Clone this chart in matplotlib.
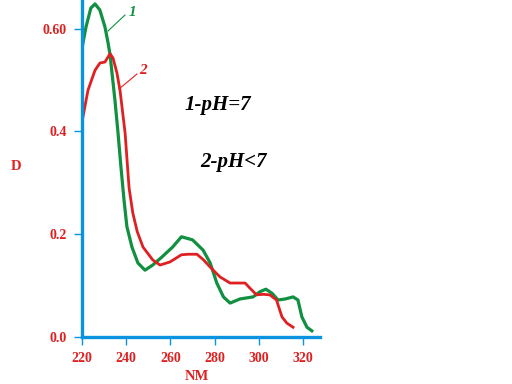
import matplotlib
matplotlib.use("Agg")
import matplotlib.pyplot as plt

# Curve 1 (pH=7), green
nm1 = [220, 221.8, 224, 225.9, 228.1, 230.4, 231.8, 232.7, 234.9, 236.3, 237.6, 239, 240.3, 242.6, 245.3, 248.5,
       252, 256, 261, 265, 270, 274.8, 278, 281, 284, 287, 291.5, 297.4, 300.5, 303.2, 306, 308.7,
       312, 315.5, 317.7, 319.5, 321.8, 324]
d1 = [0.562, 0.603, 0.640, 0.648, 0.636, 0.603, 0.572, 0.549, 0.461, 0.397, 0.332, 0.267, 0.215, 0.175, 0.144, 0.130,
      0.140, 0.155, 0.175, 0.195, 0.189, 0.169, 0.144, 0.105, 0.078, 0.066, 0.074, 0.078, 0.088, 0.093, 0.085, 0.072,
      0.074, 0.078, 0.072, 0.039, 0.019, 0.012]

# Curve 2 (pH<7), red
nm2 = [220, 222.7, 225.9, 228.1, 230.4, 231.8, 232.7, 234, 235.8, 237.2, 239.5, 241.3, 243, 245, 247.6,
       252, 255.3, 259.8, 265, 268, 272, 275, 278, 282.4, 287, 293.8, 296, 299, 302, 305, 308,
       310.5, 312.7, 315.5]
d2 = [0.418, 0.480, 0.519, 0.533, 0.535, 0.545, 0.551, 0.543, 0.514, 0.480, 0.397, 0.290, 0.241, 0.205, 0.175,
      0.150, 0.140, 0.146, 0.160, 0.161, 0.161, 0.150, 0.136, 0.117, 0.105, 0.105, 0.095, 0.082, 0.083, 0.082, 0.072,
      0.039, 0.027, 0.019]

xticks = [220, 240, 260, 280, 300, 320]
yticks = [0.0, 0.2, 0.4, 0.6]
yticklabels = ["0.0", "0.2", "0.4", "0.60"]

GREEN = "#109040"
RED = "#e02020"
BLUE = "#0a94e0"

fig = plt.figure(figsize=(5.12, 3.84), dpi=100)
fig.patch.set_facecolor("white")
ax = fig.add_axes([82/512, 1-337/384, (320-82)/512, 337/384])
ax.set_xlim(220, 220 + (320-82)/2.21)
ax.set_ylim(0, 337/514)

ax.plot(nm1, d1, color=GREEN, lw=2.3, solid_joinstyle="round")
ax.plot(nm2, d2, color=RED, lw=2.0, solid_joinstyle="round")

for s in ["top", "right"]:
    ax.spines[s].set_visible(False)
for s in ["left", "bottom"]:
    ax.spines[s].set_color(BLUE)
    ax.spines[s].set_linewidth(2.4)

serif = ["Liberation Serif", "DejaVu Serif"]
ax.set_xticks(xticks)
ax.set_xticklabels([str(t) for t in xticks], family=serif, weight="bold", color=RED, fontsize=10)
ax.set_yticks(yticks)
ax.set_yticklabels(yticklabels, family=serif, weight="bold", color=RED, fontsize=10)
ax.tick_params(axis="both", direction="out", color=BLUE, width=1, length=6)
ax.tick_params(axis="x", pad=5)
ax.tick_params(axis="y", pad=5)

def px(x, y):
    return 220 + (x-82)/2.21, (337-y)/514

fig.text(16/512, 1-167/384, "D", family=serif, weight="bold", color=RED, fontsize=10.5, ha="center", va="center")
fig.text(197/512, 1-377/384, "NM", family=serif, weight="bold", color=RED, fontsize=10.5, ha="center", va="center")

fig.text(218/512, 1-105/384, "1-pH=7", family=serif, weight="bold", style="italic", color="black", fontsize=15, ha="center", va="center")
fig.text(234/512, 1-162/384, "2-pH<7", family=serif, weight="bold", style="italic", color="black", fontsize=15, ha="center", va="center")

# leader lines and labels
ax.plot(*zip(px(108, 31), px(125, 15)), color=GREEN, lw=0.8)
ax.text(*px(132, 13), "1", family=serif, weight="bold", style="italic", color=GREEN, fontsize=11, ha="center", va="center")
ax.plot(*zip(px(119, 89), px(137, 74)), color=RED, lw=0.8)
ax.text(*px(143, 71), "2", family=serif, weight="bold", style="italic", color=RED, fontsize=11, ha="center", va="center")

fig.savefig("out.png", dpi=100, facecolor="white")
